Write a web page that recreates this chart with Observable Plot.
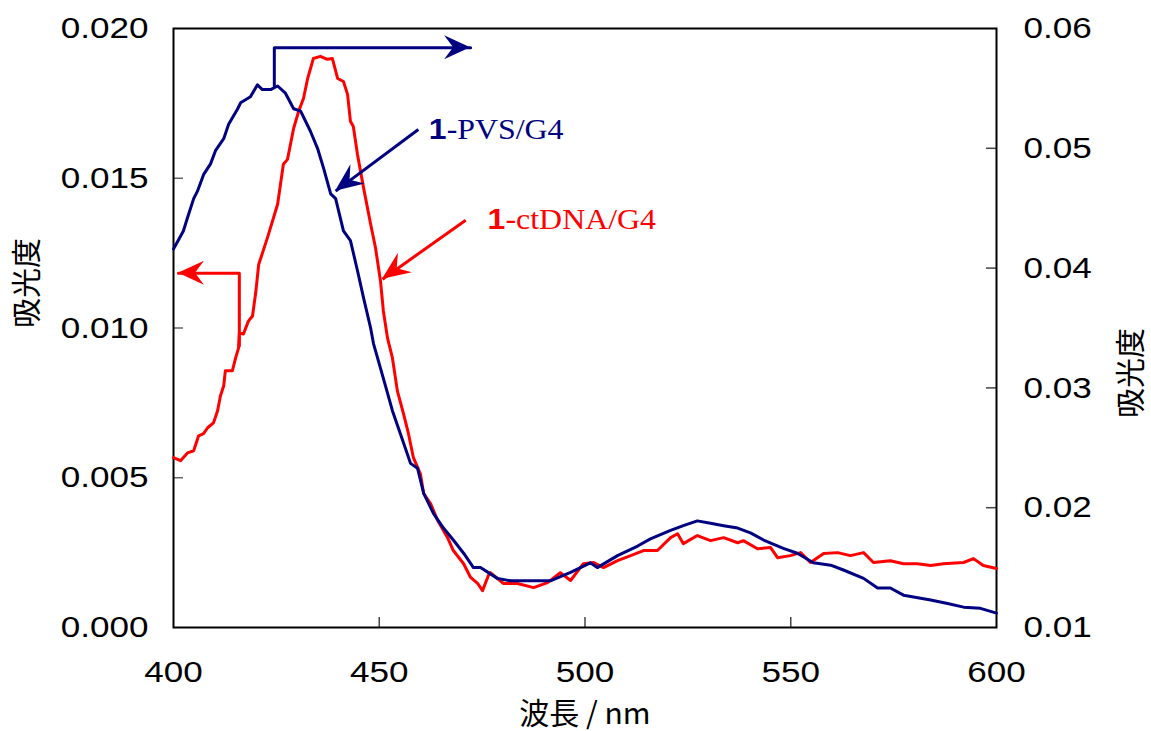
<!DOCTYPE html>
<html><head><meta charset="utf-8">
<script src="https://cdn.jsdelivr.net/npm/d3@7"></script>
<script src="https://cdn.jsdelivr.net/npm/@observablehq/plot@0.6"></script>
<style>html,body{margin:0;padding:0;background:#fff;}</style>
</head><body><div id="chart"></div>
<script>
// ---- data: 1-ctDNA/G4 (red, left axis) ----
const wavelengthRed = [400.0,401.7,403.4,404.9,406.1,407.3,408.3,409.7,410.7,411.4,412.2,412.6,414.3,415.1,415.8,416.0,417.0,418.2,419.2,420.0,420.7,422.8,425.3,426.7,427.7,429.2,430.4,431.6,432.6,434.0,435.7,437.4,438.6,439.9,441.3,442.3,443.0,443.7,444.7,446.2,447.9,449.1,450.3,451.0,452.0,453.2,454.4,455.9,457.1,458.3,460.0,460.8,462.5,464.2,466.6,468.0,470.5,472.2,473.9,475.1,476.5,477.0,480.2,483.6,487.5,490.9,494.0,496.5,499.6,502.1,504.5,507.9,511.1,514.2,517.6,520.8,522.5,523.9,527.3,530.5,533.7,537.1,538.5,541.9,545.1,546.8,549.9,552.4,554.8,558.0,561.4,564.5,567.7,570.1,574.2,577.4,580.8,584.0,587.1,592.0,594.4,596.8,600.0];
const absRed = [0.00567,0.00557,0.00583,0.00590,0.00640,0.00647,0.00667,0.00683,0.00723,0.00773,0.00807,0.00857,0.00857,0.00900,0.00933,0.00983,0.00980,0.01023,0.01040,0.01120,0.01212,0.01300,0.01413,0.01547,0.01563,0.01667,0.01723,0.01767,0.01833,0.01900,0.01907,0.01897,0.01900,0.01833,0.01823,0.01780,0.01690,0.01673,0.01580,0.01467,0.01347,0.01267,0.01157,0.01057,0.00967,0.00900,0.00790,0.00713,0.00647,0.00567,0.00513,0.00447,0.00413,0.00357,0.00300,0.00257,0.00213,0.00167,0.00147,0.00123,0.00173,0.00183,0.00147,0.00147,0.00133,0.00150,0.00183,0.00157,0.00213,0.00217,0.00200,0.00223,0.00240,0.00257,0.00257,0.00300,0.00313,0.00280,0.00307,0.00290,0.00300,0.00283,0.00290,0.00263,0.00267,0.00233,0.00240,0.00250,0.00217,0.00247,0.00250,0.00240,0.00250,0.00217,0.00223,0.00213,0.00213,0.00207,0.00213,0.00217,0.00230,0.00207,0.00197];

// ---- data: 1-PVS/G4 (navy, right axis) ----
const wavelengthBlue = [400.0,402.4,403.4,404.9,405.8,407.3,409.0,410.2,412.2,413.4,415.6,416.3,418.7,420.4,421.6,423.6,425.3,427.2,429.2,430.9,433.3,435.0,436.5,438.2,439.4,441.3,443.0,444.7,446.2,447.9,448.6,451.0,453.2,455.7,457.6,459.3,460.8,463.2,465.6,468.0,470.5,472.9,474.6,478.7,481.9,486.8,491.6,496.5,501.3,503.0,507.9,512.8,515.9,520.8,523.9,527.3,530.5,533.7,537.1,540.2,543.4,548.2,551.6,555.5,559.7,562.8,567.7,571.1,574.2,577.4,584.0,588.1,592.0,596.1,600.0];
const absBlue = [0.0416,0.0431,0.0442,0.0458,0.0464,0.0478,0.0487,0.0498,0.0508,0.0520,0.0533,0.0538,0.0543,0.0553,0.0549,0.0549,0.0552,0.0546,0.0533,0.0531,0.0514,0.0500,0.0483,0.0462,0.0458,0.0431,0.0423,0.0398,0.0375,0.0350,0.0337,0.0308,0.0281,0.0256,0.0237,0.0233,0.0212,0.0195,0.0183,0.0173,0.0162,0.0150,0.0150,0.0141,0.0139,0.0139,0.0139,0.0146,0.0154,0.0150,0.0160,0.0168,0.0174,0.0181,0.0185,0.0189,0.0187,0.0185,0.0183,0.0179,0.0173,0.0166,0.0162,0.0154,0.0152,0.0148,0.0141,0.0133,0.0133,0.0127,0.0123,0.0120,0.0117,0.0116,0.0112];

// ---- axes ----
const xTicks = [400, 450, 500, 550, 600];
const leftTicks = [0, 0.005, 0.010, 0.015, 0.020];
const rightTicks = [0.01, 0.02, 0.03, 0.04, 0.05, 0.06];
const leftDomain = [0, 0.02];
const rightDomain = [0.01, 0.06];
const xTitle = "波長 / nm";
const yTitle = "吸光度";

const toLeft = v => leftDomain[0] + (v - rightDomain[0]) * (leftDomain[1] - leftDomain[0]) / (rightDomain[1] - rightDomain[0]);
const toRight = v => rightDomain[0] + (v - leftDomain[0]) * (rightDomain[1] - rightDomain[0]) / (leftDomain[1] - leftDomain[0]);

// ---- annotations (data coordinates) ----
const blueBracketX = [424.5, 424.5, 472.2];
const blueBracketY = [0.0552, 0.0584, 0.0584];   // right-axis units
const redBracketX = [416.0, 416.0, 401.2];
const redBracketY = [0.0094, 0.01183, 0.01183];  // left-axis units
const pvsArrow = {x1: 459.5, y1: 0.01663, x2: 439.4, y2: 0.01457};
const ctArrow = {x1: 471.0, y1: 0.01360, x2: 450.8, y2: 0.01163};
const pvsLabel = {num: "1", rest: "-PVS/G4", x: 462.0, y: 0.01663};
const ctLabel = {num: "1", rest: "-ctDNA/G4", x: 476.3, y: 0.01363};

const RED = "#ff0000", NAVY = "#000080";

const redRows = wavelengthRed.map((w, i) => ({w, a: absRed[i]}));
const blueRows = wavelengthBlue.map((w, i) => ({w, a: toLeft(absBlue[i])}));
const blueBracket = blueBracketX.map((x, i) => ({x, y: toLeft(blueBracketY[i])}));
const redBracket = redBracketX.map((x, i) => ({x, y: redBracketY[i]}));

const heads = [
  {x1: blueBracket[1].x, y1: blueBracket[1].y, x2: blueBracket[2].x, y2: blueBracket[2].y, color: NAVY, len: 26, half: 12, notch: 17},
  {x1: redBracket[1].x, y1: redBracket[1].y, x2: redBracket[2].x, y2: redBracket[2].y, color: RED, len: 26, half: 12, notch: 17},
  {...pvsArrow, color: NAVY, len: 28, half: 12, notch: 18},
  {...ctArrow, color: RED, len: 28, half: 12, notch: 18}
];

function stealthHeads(list) {
  return (index, scales) => {
    const g = d3.create("svg:g");
    for (const h of list) {
      const x1 = scales.x(h.x1), y1 = scales.y(h.y1), x2 = scales.x(h.x2), y2 = scales.y(h.y2);
      const a = Math.atan2(y2 - y1, x2 - x1), c = Math.cos(a), s = Math.sin(a);
      const pts = [[0, 0], [-h.len, h.half], [-h.notch, 0], [-h.len, -h.half]]
        .map(([u, v]) => [x2 + u * c - v * s, y2 + u * s + v * c]);
      g.append("path").attr("d", "M" + pts.map(p => p.join(",")).join("L") + "Z").attr("fill", h.color);
    }
    return g.node();
  };
}

const SANS = "'Liberation Sans', Arial, sans-serif";
const SERIF = "'Liberation Serif', 'Times New Roman', serif";
const CJK = "'Noto Sans CJK JP', sans-serif";

const chart = Plot.plot({
  width: 1151,
  height: 731,
  marginLeft: 173,
  marginRight: 155,
  marginTop: 28,
  marginBottom: 104,
  style: {fontFamily: SANS, fontSize: "30px", background: "#fff", color: "#000"},
  x: {domain: [400, 600]},
  y: {domain: leftDomain},
  marks: [
    // inward ticks
    Plot.ruleY(leftTicks.slice(1, -1), {y: d => d, x1: () => 400, x2: () => 400, insetRight: -10, stroke: "#666", strokeWidth: 1.5}),
    Plot.ruleY(rightTicks.slice(1, -1).map(toLeft), {y: d => d, x1: () => 600, x2: () => 600, insetLeft: -10, stroke: "#444", strokeWidth: 1.5}),
    Plot.ruleX(xTicks.slice(1, -1), {x: d => d, y1: () => 0, y2: () => 0, insetTop: -10, stroke: "#444", strokeWidth: 1.5}),
    Plot.axisX(xTicks, {tickSize: 0, tickPadding: 33, label: null, tickFormat: d => String(d)}),
    Plot.axisY(leftTicks, {anchor: "left", tickSize: 0, tickPadding: 25, label: null, tickFormat: d => d.toFixed(3)}),
    Plot.axisY(rightTicks.map(toLeft), {anchor: "right", tickSize: 0, tickPadding: 27, label: null, tickFormat: d => toRight(d).toFixed(2)}),
    Plot.frame({stroke: "#000", strokeWidth: 2}),
    // curves
    Plot.line(redRows, {x: "w", y: "a", stroke: RED, strokeWidth: 3, strokeLinejoin: "round"}),
    Plot.line(blueRows, {x: "w", y: "a", stroke: NAVY, strokeWidth: 3, strokeLinejoin: "round"}),
    // annotation arrows
    Plot.line(blueBracket, {x: "x", y: "y", stroke: NAVY, strokeWidth: 3}),
    Plot.line(redBracket, {x: "x", y: "y", stroke: RED, strokeWidth: 3}),
    Plot.link([pvsArrow], {x1: "x1", y1: "y1", x2: "x2", y2: "y2", stroke: NAVY, strokeWidth: 3}),
    Plot.link([ctArrow], {x1: "x1", y1: "y1", x2: "x2", y2: "y2", stroke: RED, strokeWidth: 3}),
    stealthHeads(heads),
    // labels
    Plot.text([pvsLabel], {x: "x", y: "y", text: "num", fill: NAVY, textAnchor: "start", fontSize: 29, fontWeight: "bold", fontFamily: SANS, ariaLabel: () => "wide label"}),
    Plot.text([pvsLabel], {x: "x", y: "y", text: "rest", fill: NAVY, textAnchor: "start", dx: 18, fontSize: 29, fontFamily: SERIF, ariaLabel: () => "wide label"}),
    Plot.text([ctLabel], {x: "x", y: "y", text: "num", fill: RED, textAnchor: "start", fontSize: 29, fontWeight: "bold", fontFamily: SANS, ariaLabel: () => "wide label"}),
    Plot.text([ctLabel], {x: "x", y: "y", text: "rest", fill: RED, textAnchor: "start", dx: 18, fontSize: 29, fontFamily: SERIF, ariaLabel: () => "wide label"}),
    // axis titles
    Plot.text([yTitle], {text: d => d, frameAnchor: "left", rotate: -90, dx: -146, fontSize: 30, fontFamily: CJK}),
    Plot.text([yTitle], {text: d => d, frameAnchor: "right", rotate: -90, dx: 135, fontSize: 30, fontFamily: CJK}),
    Plot.text([xTitle], {text: d => d, frameAnchor: "bottom", dy: 96, fontSize: 30, fontFamily: CJK})
  ]
});

// widen glyphs horizontally to match the reference's wide rendering
function widen(selector, s) {
  for (const t of chart.querySelectorAll(selector)) {
    const x = +t.getAttribute("x") || 0, y = +t.getAttribute("y") || 0;
    const tr = t.getAttribute("transform") || "";
    t.setAttribute("transform", `${tr} translate(${x},${y}) scale(${s},1) translate(${-x},${-y})`);
  }
}
widen('g[aria-label*="tick label"] text', 1.17);
widen('text[aria-label="wide label"], g[aria-label="wide label"] text', 1.1);

document.getElementById("chart").append(chart);
</script>
</body></html>
